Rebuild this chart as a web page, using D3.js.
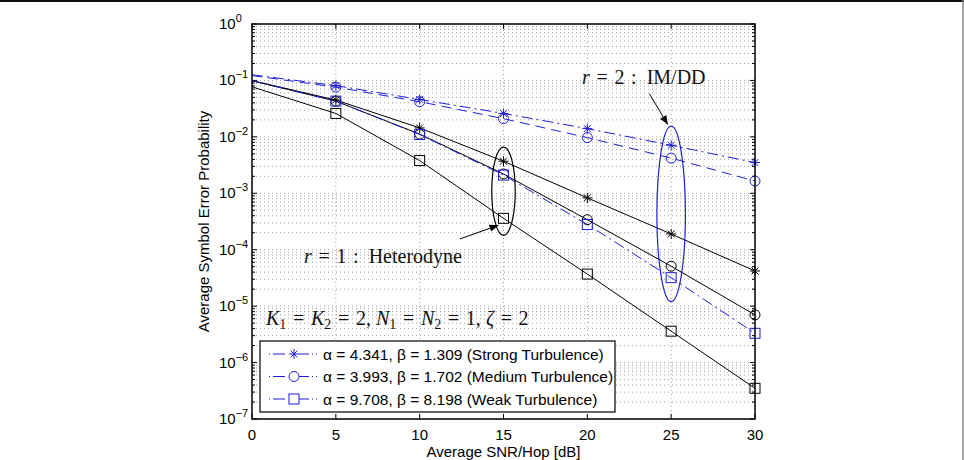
<!DOCTYPE html>
<html>
<head>
<meta charset="utf-8">
<script src="https://cdn.jsdelivr.net/npm/d3@7"></script>
<style>
  body { margin: 0; background: #fff; }
  svg { display: block; }
  .tick-label { font-family: "Liberation Sans", Arial, sans-serif; font-size: 15px; fill: #000; }
  .legend-label { font-family: "Liberation Sans", Arial, sans-serif; font-size: 15.5px; fill: #000; }
  .math { font-family: "Liberation Serif", "DejaVu Serif", serif; font-size: 20px; fill: #111; white-space: pre; }
</style>
</head>
<body>
<svg id="chart" width="964" height="460"></svg>
<script>
// SNR per hop (dB)
const snr = [0, 5, 10, 15, 20, 25, 30];

// r = 1 : heterodyne (black, solid)
const hetStrong = [0.099, 0.045, 0.0144, 0.0037, 8.3e-4, 1.9e-4, 4.2e-5];
const hetMedium = [0.099, 0.043, 0.0112, 0.0022, 3.4e-4, 5.1e-5, 7.0e-6];
const hetWeak   = [0.077, 0.026, 0.0038, 3.6e-4, 3.7e-5, 3.6e-6, 3.5e-7];

// r = 2 : IM/DD (blue, dashed)
const imStrong = [0.126, 0.081, 0.046, 0.026, 0.014, 0.0071, 0.0035];
const imMedium = [0.122, 0.076, 0.042, 0.021, 0.0097, 0.0042, 0.00165];
const imWeak   = [0.099, 0.043, 0.011, 0.0021, 2.8e-4, 3.2e-5, 3.3e-6];

const xTicks = [0, 5, 10, 15, 20, 25, 30];
const yExps = [0, -1, -2, -3, -4, -5, -6, -7];

const legendLabels = [
  "\u03b1 = 4.341, \u03b2 = 1.309 (Strong Turbulence)",
  "\u03b1 = 3.993, \u03b2 = 1.702 (Medium Turbulence)",
  "\u03b1 = 9.708, \u03b2 = 8.198 (Weak Turbulence)"
];

const series = [
  { values: hetStrong, color: "#000", dash: null, marker: "star" },
  { values: hetMedium, color: "#000", dash: null, marker: "circle" },
  { values: hetWeak, color: "#000", dash: null, marker: "square" },
  { values: imStrong, color: "#1f1fd6", dash: "11,4,2,4", marker: "star" },
  { values: imMedium, color: "#1f1fd6", dash: "10,6", marker: "circle" },
  { values: imWeak, color: "#1f1fd6", dash: "11,4,2,4", marker: "square" }
];

const svg = d3.select("#chart");
const margin = { left: 252, right: 209, top: 24, bottom: 41 };
const W = 964, H = 460;

// frame bits of the original figure
svg.append("line").attr("x1", 0).attr("x2", W).attr("y1", 1).attr("y2", 1)
  .attr("stroke", "#111").attr("stroke-width", 2);
svg.append("line").attr("x1", 963).attr("x2", 963).attr("y1", 0).attr("y2", H)
  .attr("stroke", "#888").attr("stroke-width", 1.5);

const x = d3.scaleLinear().domain([0, 30]).range([margin.left, W - margin.right]);
const y = d3.scaleLog().domain([1e-7, 1]).range([H - margin.bottom, margin.top]);

const x0 = x.range()[0], x1 = x.range()[1], y0 = y.range()[0], y1 = y.range()[1];

// grid
const minorVals = [];
yExps.forEach(e => { if (e < 0) for (let k = 1; k <= 9; k++) minorVals.push(k * Math.pow(10, e)); });
minorVals.push(1);
const grid = svg.append("g").attr("stroke", "#777").attr("stroke-width", 0.7)
  .attr("stroke-dasharray", "1,3");
grid.selectAll(".hg").data(minorVals).enter().append("line")
  .attr("x1", x0).attr("x2", x1)
  .attr("y1", d => y(d)).attr("y2", d => y(d));
grid.selectAll(".vg").data(xTicks.slice(1, -1)).enter().append("line")
  .attr("x1", d => x(d)).attr("x2", d => x(d))
  .attr("y1", y0).attr("y2", y1);

// ticks (inside, on all four sides)
const ticks = svg.append("g").attr("stroke", "#000").attr("stroke-width", 1);
xTicks.forEach(t => {
  ticks.append("line").attr("x1", x(t)).attr("x2", x(t)).attr("y1", y0).attr("y2", y0 - 5);
  ticks.append("line").attr("x1", x(t)).attr("x2", x(t)).attr("y1", y1).attr("y2", y1 + 5);
});
minorVals.forEach(v => {
  const major = Math.abs(Math.log10(v) - Math.round(Math.log10(v))) < 1e-9;
  const len = major ? 5 : 3;
  ticks.append("line").attr("x1", x0).attr("x2", x0 + len).attr("y1", y(v)).attr("y2", y(v));
  ticks.append("line").attr("x1", x1).attr("x2", x1 - len).attr("y1", y(v)).attr("y2", y(v));
});

// tick labels
svg.selectAll(".xl").data(xTicks).enter().append("text")
  .attr("class", "tick-label").attr("x", d => x(d)).attr("y", y0 + 21)
  .attr("text-anchor", "middle").text(d => d);
const yl = svg.selectAll(".yl").data(yExps).enter().append("text")
  .attr("class", "tick-label").attr("x", x0 - 33).attr("y", d => y(Math.pow(10, d)) + 5)
  .attr("text-anchor", "start");
yl.append("tspan").text("10");
yl.append("tspan").attr("dy", -7).attr("font-size", "11px")
  .text(d => d === 0 ? "0" : "\u2212" + (-d));

// axis titles
svg.append("text").attr("class", "tick-label").attr("x", (x0 + x1) / 2).attr("y", 457)
  .attr("text-anchor", "middle").attr("font-size", "16px").text("Average SNR/Hop [dB]");
svg.append("text").attr("class", "tick-label").attr("font-size", "15px")
  .attr("transform", `translate(209,${(y0 + y1) / 2}) rotate(-90)`)
  .attr("text-anchor", "middle").text("Average Symbol Error Probability");

// clip
svg.append("clipPath").attr("id", "clip").append("rect")
  .attr("x", x0).attr("y", y1).attr("width", x1 - x0).attr("height", y0 - y1);

const line = d3.line().x(d => x(d[0])).y(d => y(d[1]));

function drawMarker(g, type, cx, cy, color) {
  if (type === "circle") {
    g.append("circle").attr("cx", cx).attr("cy", cy).attr("r", 5)
      .attr("fill", "none").attr("stroke", color).attr("stroke-width", 1);
  } else if (type === "square") {
    g.append("rect").attr("x", cx - 5).attr("y", cy - 5).attr("width", 10).attr("height", 10)
      .attr("fill", "none").attr("stroke", color).attr("stroke-width", 1);
  } else {
    const r = 5;
    [[-r, 0, r, 0], [0, -r, 0, r], [-r * 0.7, -r * 0.7, r * 0.7, r * 0.7], [-r * 0.7, r * 0.7, r * 0.7, -r * 0.7]]
      .forEach(s => g.append("line").attr("x1", cx + s[0]).attr("y1", cy + s[1])
        .attr("x2", cx + s[2]).attr("y2", cy + s[3]).attr("stroke", color).attr("stroke-width", 1));
  }
}

const plot = svg.append("g");
series.forEach(s => {
  const pts = snr.map((v, i) => [v, s.values[i]]);
  plot.append("path").attr("d", line(pts)).attr("fill", "none")
    .attr("stroke", s.color).attr("stroke-width", 1)
    .attr("stroke-dasharray", s.dash).attr("clip-path", "url(#clip)");
  const mg = plot.append("g");
  pts.filter(p => p[0] > 0).forEach(p => drawMarker(mg, s.marker, x(p[0]), y(p[1]), s.color));
});

// axes box
svg.append("rect").attr("x", x0).attr("y", y1).attr("width", x1 - x0).attr("height", y0 - y1)
  .attr("fill", "none").attr("stroke", "#000").attr("stroke-width", 1.5);

// annotations: ellipses in data coordinates
const ellipses = [
  { snr: 15, top: 0.0066, bottom: 1.8e-4, halfWidth: 0.7, color: "#000" },
  { snr: 25, top: 0.0155, bottom: 1.2e-5, halfWidth: 0.85, color: "#1f1fd6" }
];
ellipses.forEach(e => {
  const yt = y(e.top), yb = y(e.bottom);
  svg.append("ellipse").attr("cx", x(e.snr)).attr("cy", (yt + yb) / 2)
    .attr("rx", x(e.halfWidth) - x(0)).attr("ry", (yb - yt) / 2)
    .attr("fill", "none").attr("stroke", e.color).attr("stroke-width", 1.2);
});

// arrows
svg.append("defs").append("marker").attr("id", "arrow").attr("viewBox", "0 0 10 10")
  .attr("refX", 10).attr("refY", 5).attr("markerWidth", 9).attr("markerHeight", 9)
  .attr("markerUnits", "userSpaceOnUse").attr("orient", "auto")
  .append("path").attr("d", "M0,1 L10,5 L0,9 Z").attr("fill", "#000");
const arrows = [
  { from: [23.7, 0.058], to: [24.8, 0.0165] },
  { from: [12.4, 1.55e-4], to: [14.7, 1.7e-4 * 1.6] }
];
arrows.forEach(a => {
  svg.append("line").attr("x1", x(a.from[0])).attr("y1", y(a.from[1]))
    .attr("x2", x(a.to[0])).attr("y2", y(a.to[1]))
    .attr("stroke", "#000").attr("stroke-width", 1).attr("marker-end", "url(#arrow)");
});

// math text
const sp = "\u2004";
const t2 = svg.append("text").attr("class", "math").attr("x", 582).attr("y", 84);
t2.append("tspan").attr("font-style", "italic").text("r");
t2.append("tspan").text(sp + "=" + sp + "2" + sp + ":" + "\u2002" + "IM/DD");

const t1 = svg.append("text").attr("class", "math").attr("x", 304).attr("y", 263);
t1.append("tspan").attr("font-style", "italic").text("r");
t1.append("tspan").text(sp + "=" + sp + "1" + sp + ":" + "\u2002" + "Heterodyne");

const tk = svg.append("text").attr("class", "math").attr("x", 266).attr("y", 325)
  .attr("font-size", "21.5px");
const parts = [
  ["K", 1], ["1", 2], [sp + "=" + sp, 0], ["K", 1], ["2", 2],
  [sp + "=" + sp + "2,\u2005", 0], ["N", 1], ["1", 2], [sp + "=" + sp, 0], ["N", 1],
  ["2", 2], [sp + "=" + sp + "1,\u2005", 0], ["\u03b6", 1], [sp + "=" + sp + "2", 0]
];
parts.forEach((p, i) => {
  const ts = tk.append("tspan").text(p[0]);
  if (p[1] === 1) ts.attr("font-style", "italic");
  const prevSub = i > 0 && parts[i - 1][1] === 2;
  if (p[1] === 2) ts.attr("font-size", "14px").attr("dy", 4);
  else if (prevSub) ts.attr("dy", -4);
});

// legend
const lg = svg.append("g");
lg.append("rect").attr("x", 260).attr("y", 341).attr("width", 355).attr("height", 71)
  .attr("fill", "#fff").attr("stroke", "#000").attr("stroke-width", 1.2);
const legendMarkers = ["star", "circle", "square"];
legendLabels.forEach((lab, i) => {
  const cy = 354 + i * 22.5;
  lg.append("line").attr("x1", 269).attr("x2", 318).attr("y1", cy).attr("y2", cy)
    .attr("stroke", "#1f1fd6").attr("stroke-width", 1).attr("stroke-dasharray", "1,3,12,3,0,11,10,3,1,3");
  drawMarker(lg, legendMarkers[i], 294, cy, "#1f1fd6");
  lg.append("text").attr("class", "legend-label").attr("x", 323).attr("y", cy + 5.5).text(lab);
});
</script>
</body>
</html>
